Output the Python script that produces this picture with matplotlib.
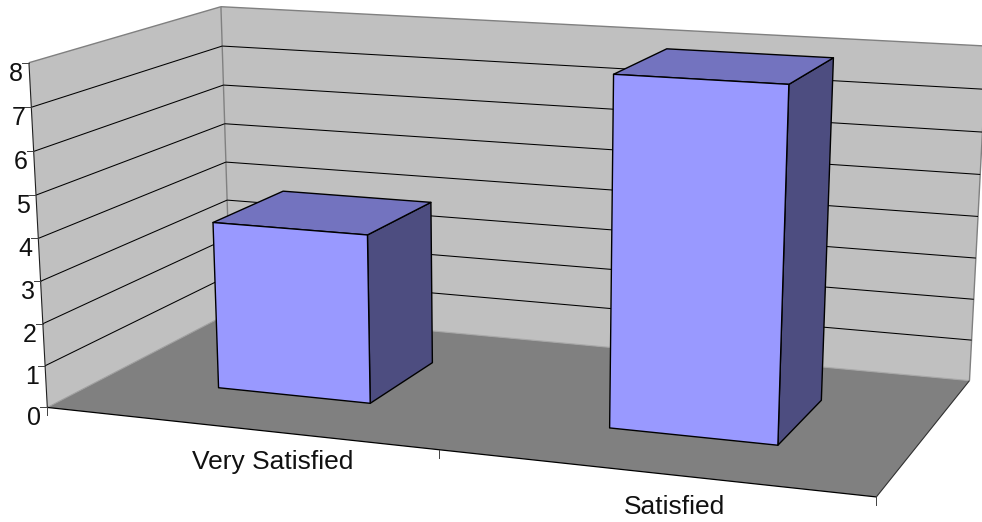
import numpy as np
import matplotlib
matplotlib.use("Agg")
import matplotlib.pyplot as plt
from matplotlib.patches import Polygon

plt.rcParams["font.family"] = ["Liberation Sans", "DejaVu Sans"]

# chart values
categories = ["Very Satisfied", "Satisfied"]
values = [4, 8]
value_ticks = [0, 1, 2, 3, 4, 5, 6, 7, 8]

# colours of the old spreadsheet 3D look
color_wall = "#C0C0C0"
color_floor = "#808080"
color_front = "#9999FF"
color_top = "#7373BF"
color_side = "#4D4D80"
color_text = "#111111"

# box corners on the canvas: (u along categories, d into depth, value) -> pixel
vmax = value_ticks[-1]
box = [
    ((0, 0, 0), (47.5, 408.5)),
    ((1, 0, 0), (874, 498)),
    ((0, 1, 0), (231, 311)),
    ((1, 1, 0), (971, 380)),
    ((0, 0, vmax), (29.5, 65)),
    ((1, 0, vmax), (894, 110)),
    ((0, 1, vmax), (220, 5)),
    ((1, 1, vmax), (986, 50)),
]


def fit_camera(pairs):
    rows = []
    for (u, d, v), (x, y) in pairs:
        rows.append([u, d, v, 1, 0, 0, 0, 0, -x * u, -x * d, -x * v, -x])
        rows.append([0, 0, 0, 0, u, d, v, 1, -y * u, -y * d, -y * v, -y])
    return np.linalg.svd(np.array(rows, dtype=float))[2][-1].reshape(3, 4)


camera = fit_camera(box)


def project(u, d, v):
    x, y, w = camera @ np.array([u, d, v, 1.0])
    return x / w, y / w


def face(ax, pts, fc, z, ec="black", lw=1.0):
    ax.add_patch(Polygon([project(*p) for p in pts], closed=True, fc=fc, ec=ec,
                         lw=lw, joinstyle="round", zorder=z))


def line(ax, a, b, color="black", lw=0.75, z=3):
    pa, pb = project(*a), project(*b)
    ax.plot([pa[0], pb[0]], [pa[1], pb[1]], color=color, lw=lw, zorder=z,
            solid_capstyle="butt")


fig = plt.figure(figsize=(9.82, 5.22), dpi=100)
ax = fig.add_axes([0, 0, 1, 1])
ax.set_xlim(0, 982)
ax.set_ylim(522, 0)
ax.axis("off")

# walls and floor
face(ax, [(0, 0, 0), (0, 1, 0), (0, 1, vmax), (0, 0, vmax)], color_wall, 1, ec="none", lw=0)
face(ax, [(0, 1, 0), (1, 1, 0), (1, 1, vmax), (0, 1, vmax)], color_wall, 1, ec="none", lw=0)
face(ax, [(0, 0, 0), (1, 0, 0), (1, 1, 0), (0, 1, 0)], color_floor, 2, ec="none", lw=0)

# wall outlines
line(ax, (0, 0, vmax), (0, 1, vmax), "#808080", 1.0)
line(ax, (0, 1, vmax), (1, 1, vmax), "#808080", 1.0)
line(ax, (0, 1, 0), (0, 1, vmax), "#808080", 1.0)
line(ax, (1, 1, 0), (1, 1, vmax), "#808080", 1.0)
line(ax, (0, 1, 0), (1, 1, 0), "#A8A8A8", 0.8)
line(ax, (0, 0, 0), (0, 1, 0), "#A0A0A0", 0.8)

# gridlines run along both walls
for v in value_ticks[1:-1]:
    line(ax, (0, 0, v), (0, 1, v))
    line(ax, (0, 1, v), (1, 1, v))

# axes and floor edges
line(ax, (0, 0, 0), (0, 0, vmax), "#202020", 0.8)
line(ax, (0, 0, 0), (1, 0, 0), "black", 0.9)
line(ax, (1, 0, 0), (1, 1, 0), "#303030", 0.8)

# value axis ticks and labels
for v in value_ticks:
    x, y = project(0, 0, v)
    ax.plot([x - 7, x], [y, y], color="#404040", lw=0.7, zorder=3)
    ax.text(x - 6, y + 18, str(v), ha="right", va="baseline", fontsize=18,
            color=color_text, zorder=6)

# category axis ticks
for u in [0, 0.5, 1]:
    x, y = project(u, 0, 0)
    ax.plot([x, x], [y, y + 8], color="#404040", lw=0.7, zorder=3)

# bars sit centred in their category, with the same gap on both sides
bar_width = 0.2
bar_d0, bar_d1 = 0.3, 0.7
label_nudge = [35, 23]
for i, (name, val) in enumerate(zip(categories, values)):
    mid = (i + 0.5) / len(categories)
    u0, u1 = mid - bar_width / 2 + 0.002, mid + bar_width / 2 + 0.002
    z = 4 + i
    face(ax, [(u1, bar_d0, 0), (u1, bar_d1, 0), (u1, bar_d1, val), (u1, bar_d0, val)], color_side, z)
    face(ax, [(u0, bar_d0, val), (u1, bar_d0, val), (u1, bar_d1, val), (u0, bar_d1, val)], color_top, z)
    face(ax, [(u0, bar_d0, 0), (u1, bar_d0, 0), (u1, bar_d0, val), (u0, bar_d0, val)], color_front, z)

    x, y = project(mid, 0, 0)
    ax.text(x + label_nudge[i], y + 41, name, ha="center", va="baseline", fontsize=19,
            color=color_text, zorder=6)

fig.savefig("out.png", dpi=100)
